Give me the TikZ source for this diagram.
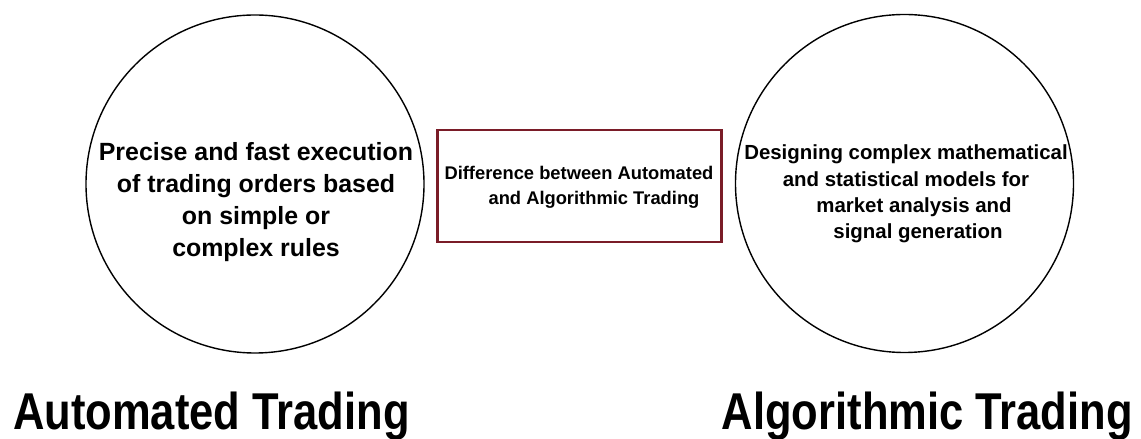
\documentclass[tikz,border=0pt]{standalone}
\usepackage{fontspec}
\setmainfont{Liberation Sans}
\definecolor{boxred}{RGB}{122,28,40}
\begin{document}
\begin{tikzpicture}[x=1bp,y=-1bp,
  ring/.style={circle,draw=black,line width=1.4bp,minimum size=338bp,inner sep=0},
  circtext/.style={align=center,inner sep=0,font=\bfseries\fontsize{25}{32}\selectfont},
  circtextr/.style={align=center,inner sep=0,font=\bfseries\fontsize{20.5}{26.5}\selectfont},
  midbox/.style={draw=boxred,line width=2.6bp,minimum width=284bp,minimum height=112bp,inner sep=0},
  boxtext/.style={align=center,inner sep=0,font=\bfseries\fontsize{18.4}{25}\selectfont},
  title/.style={inner sep=0,font=\bfseries\fontsize{52}{60}\selectfont}]
\useasboundingbox (0,0) rectangle (1141,439);
\fill[white] (0,0) rectangle (1141,439);
\node[ring] (lc) at (255,184) {};
\node[ring] (rc) at (904.5,183.5) {};
\node[midbox] (mb) at (579.5,186) {};
\node[circtext] (lt) at (256,202) {Precise and fast execution\\of trading orders based\\on simple or\\complex rules};
\node[circtextr] (rt) at (906,194) {Designing complex mathematical\\and statistical models for\\\hspace*{16bp}market analysis and\\\hspace*{24bp}signal generation};
\node[boxtext] (bt) at (579,187) {Difference between Automated\\\hspace*{30bp}and Algorithmic Trading};
\node[title,anchor=base west] (at) at (13,430) {\scalebox{0.84}[1]{Automated Trading}};
\node[title,anchor=base east] (gt) at (1133,430) {\scalebox{0.84}[1]{Algorithmic Trading}};
\end{tikzpicture}
\end{document}
